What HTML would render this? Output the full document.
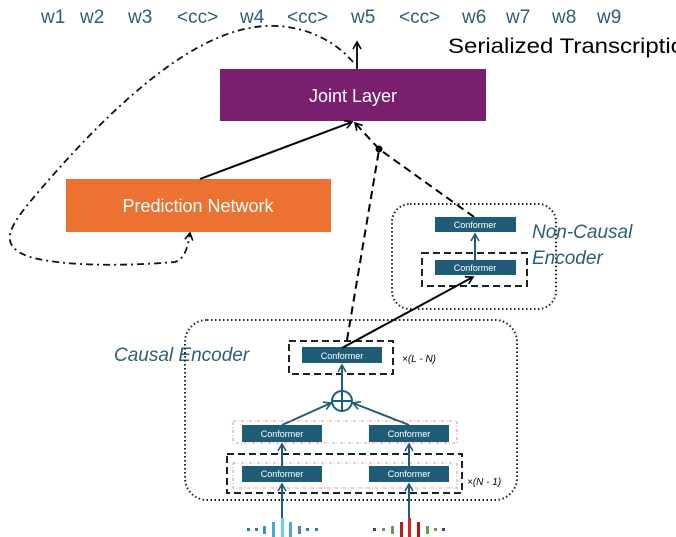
<!DOCTYPE html>
<html><head><meta charset="utf-8"><style>
html,body{margin:0;padding:0;background:#fff;overflow:hidden;}
svg{display:block;}
</style></head><body>
<svg width="676" height="537" viewBox="0 0 676 537" xmlns="http://www.w3.org/2000/svg" font-family="Liberation Sans, sans-serif">
<defs>
<marker id="ab" markerWidth="10" markerHeight="10" refX="8" refY="5" orient="auto" markerUnits="userSpaceOnUse"><path d="M1,1 L8,5 L1,9" fill="none" stroke="#000" stroke-width="1.6"/></marker>
<marker id="at" markerWidth="10" markerHeight="10" refX="8" refY="5" orient="auto" markerUnits="userSpaceOnUse"><path d="M1,1 L8,5 L1,9" fill="none" stroke="#1f5c78" stroke-width="1.6"/></marker>
</defs>
<g fill="#2e5f73" font-size="19">
<text x="41" y="23">w1</text><text x="80" y="23">w2</text><text x="128" y="23">w3</text>
<text x="177" y="23">&lt;cc&gt;</text><text x="240" y="23">w4</text><text x="287" y="23">&lt;cc&gt;</text>
<text x="351" y="23">w5</text><text x="399" y="23">&lt;cc&gt;</text><text x="462" y="23">w6</text>
<text x="506" y="23">w7</text><text x="552" y="23">w8</text><text x="597" y="23">w9</text>
</g>
<text x="448" y="53" font-size="21" fill="#000" textLength="236" lengthAdjust="spacingAndGlyphs">Serialized Transcriptio</text>
<path d="M353,62 C330,35 290,20 250,28 C180,40 100,120 40,190 C10,225 -5,245 30,257 C70,268 140,265 175,262 C186,258 188,245 190,233" fill="none" stroke="#111" stroke-width="1.8" stroke-dasharray="7,4,2,4" marker-end="url(#ab)"/>
<line x1="357" y1="69" x2="357" y2="42" stroke="#000" stroke-width="1.8" marker-end="url(#ab)"/>
<rect x="220" y="69" width="266" height="52" fill="#7a1f6e"/>
<text x="353" y="102" font-size="18" fill="#fff" text-anchor="middle">Joint Layer</text>
<rect x="66" y="179" width="265" height="53" fill="#ec7232"/>
<text x="198" y="212" font-size="18" fill="#fff" text-anchor="middle">Prediction Network</text>
<line x1="200" y1="179" x2="352" y2="122" stroke="#000" stroke-width="2" marker-end="url(#ab)"/>
<line x1="347" y1="340" x2="379" y2="150" stroke="#000" stroke-width="2" stroke-dasharray="8,5"/>
<line x1="474" y1="217" x2="379" y2="149" stroke="#000" stroke-width="2" stroke-dasharray="8,5"/>
<line x1="379" y1="149" x2="355" y2="123" stroke="#000" stroke-width="2" stroke-dasharray="8,5" marker-end="url(#ab)"/>
<circle cx="379" cy="149" r="3.5" fill="#000"/>
<rect x="392" y="204" width="164" height="105" rx="18" fill="none" stroke="#222" stroke-width="2" stroke-dasharray="1.5,2.5"/>
<rect x="422" y="253" width="105" height="33" fill="none" stroke="#222" stroke-width="2" stroke-dasharray="7,4"/>
<rect x="435" y="217" width="81" height="15" fill="#1f5c78"/>
<text x="475" y="228" font-size="9" fill="#fff" text-anchor="middle">Conformer</text>
<rect x="435" y="260" width="81" height="15" fill="#1f5c78"/>
<text x="475" y="271" font-size="9" fill="#fff" text-anchor="middle">Conformer</text>
<line x1="475" y1="260" x2="475" y2="234" stroke="#1f5c78" stroke-width="2" marker-end="url(#at)"/>
<g font-size="19" font-style="italic" fill="#2e5f73"><text x="532" y="238">Non-Causal</text><text x="532" y="264">Encoder</text>
<text x="114" y="361">Causal Encoder</text></g>
<rect x="185" y="320" width="332" height="180" rx="22" fill="none" stroke="#222" stroke-width="2" stroke-dasharray="1.5,2.5"/>
<rect x="289" y="341" width="104" height="33" fill="none" stroke="#222" stroke-width="2" stroke-dasharray="7,4"/>
<rect x="302" y="347" width="80" height="16" fill="#1f5c78"/>
<text x="342" y="359" font-size="9" fill="#fff" text-anchor="middle">Conformer</text>
<line x1="342" y1="348" x2="473" y2="277" stroke="#000" stroke-width="2" marker-end="url(#ab)"/>
<text x="402" y="362" font-size="10" font-style="italic" fill="#000">×(L - N)</text>
<circle cx="342" cy="401" r="10" fill="none" stroke="#1f5c78" stroke-width="2"/>
<line x1="332" y1="401" x2="352" y2="401" stroke="#1f5c78" stroke-width="2"/>
<line x1="342" y1="391" x2="342" y2="411" stroke="#1f5c78" stroke-width="2"/>
<line x1="342" y1="391" x2="342" y2="365" stroke="#1f5c78" stroke-width="2" marker-end="url(#at)"/>
<line x1="282" y1="425" x2="331" y2="403" stroke="#1f5c78" stroke-width="2" marker-end="url(#at)"/>
<line x1="409" y1="425" x2="353" y2="403" stroke="#1f5c78" stroke-width="2" marker-end="url(#at)"/>
<rect x="233" y="421" width="224" height="22" fill="none" stroke="#c77" stroke-width="0.8" stroke-dasharray="3,2,1,2"/>
<rect x="233" y="463" width="224" height="25" fill="none" stroke="#c77" stroke-width="0.8" stroke-dasharray="3,2,1,2"/>
<rect x="227" y="454" width="235" height="39" fill="none" stroke="#222" stroke-width="2" stroke-dasharray="7,4"/>
<g fill="#1f5c78"><rect x="242" y="425" width="80" height="17"/><rect x="369" y="425" width="80" height="17"/>
<rect x="242" y="466" width="80" height="16"/><rect x="369" y="466" width="80" height="16"/></g>
<g font-size="9" fill="#fff" text-anchor="middle"><text x="282" y="437">Conformer</text><text x="409" y="437">Conformer</text>
<text x="282" y="477">Conformer</text><text x="409" y="477">Conformer</text></g>
<text x="467" y="485" font-size="10" font-style="italic" fill="#000">×(N - 1)</text>
<g stroke="#1f5c78" stroke-width="2">
<line x1="282" y1="466" x2="282" y2="444" marker-end="url(#at)"/><line x1="409" y1="466" x2="409" y2="444" marker-end="url(#at)"/>
<line x1="282" y1="518" x2="282" y2="484" marker-end="url(#at)"/><line x1="409" y1="518" x2="409" y2="484" marker-end="url(#at)"/>
</g>
<g>
<rect x="247" y="528" width="3" height="3" fill="#2a7ab8"/><rect x="255" y="528" width="3" height="3" fill="#2a7ab8"/>
<rect x="263" y="526" width="3" height="8" fill="#3a90c0"/><rect x="272" y="522" width="3" height="15" fill="#4aa8d0"/>
<rect x="281" y="518" width="3" height="19" fill="#6cd0e8"/><rect x="289" y="522" width="3" height="15" fill="#4aa8d0"/>
<rect x="298" y="526" width="3" height="8" fill="#3a90c0"/><rect x="306" y="528" width="3" height="3" fill="#2a7ab8"/>
<rect x="315" y="528" width="3" height="3" fill="#2a7ab8"/>
<rect x="373" y="528" width="3" height="3" fill="#445"/><rect x="382" y="528" width="3" height="3" fill="#6a9a4a"/>
<rect x="391" y="526" width="3" height="8" fill="#6a9a4a"/><rect x="400" y="522" width="3" height="15" fill="#c01818"/>
<rect x="408" y="518" width="3" height="19" fill="#e02020"/><rect x="417" y="522" width="3" height="15" fill="#b01818"/>
<rect x="426" y="526" width="3" height="8" fill="#6a9a4a"/><rect x="434" y="528" width="3" height="3" fill="#6a9a4a"/>
<rect x="442" y="528" width="3" height="3" fill="#445"/>
</g>
</svg>
</body></html>
